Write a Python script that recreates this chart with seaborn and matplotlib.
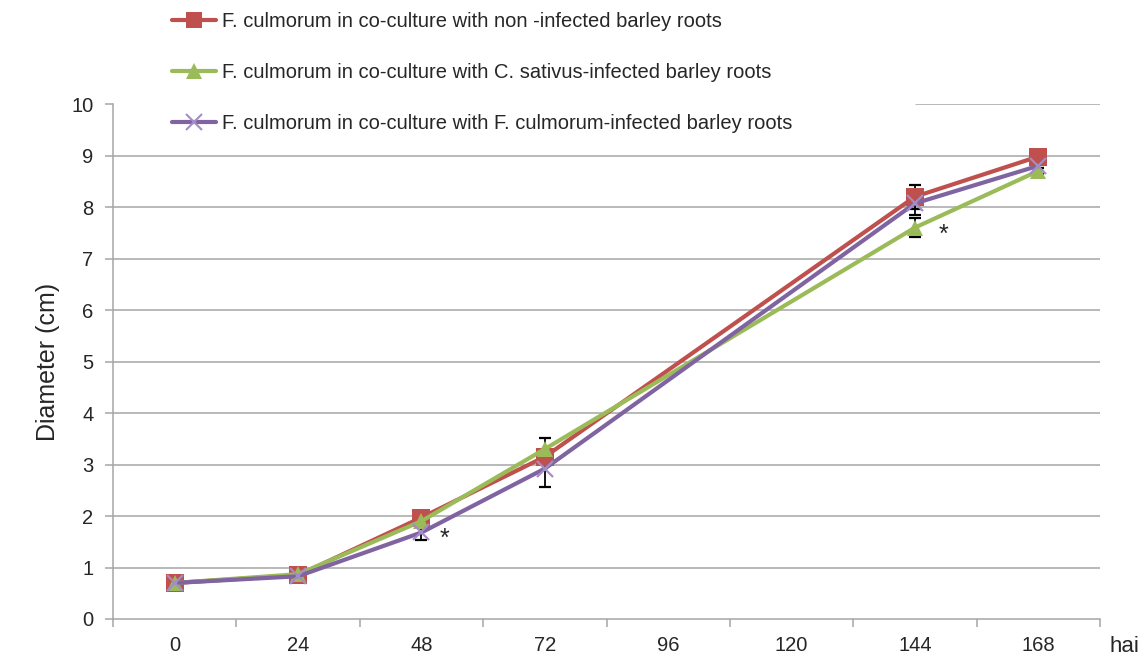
import numpy as np
import pandas as pd
import seaborn as sns
import matplotlib
matplotlib.use("Agg")
import matplotlib.pyplot as plt
from matplotlib.lines import Line2D

hours = [0, 24, 48, 72, 144, 168]
tick_hours = [0, 24, 48, 72, 96, 120, 144, 168]

labels = [
    "F. culmorum in co-culture with non -infected barley roots",
    "F. culmorum in co-culture with C. sativus-infected barley roots",
    "F. culmorum in co-culture with F. culmorum-infected barley roots",
]
non_infected = [0.70, 0.85, 1.97, 3.15, 8.20, 8.98]
csativus_infected = [0.70, 0.87, 1.90, 3.30, 7.60, 8.70]
fculmorum_infected = [0.70, 0.83, 1.68, 2.92, 8.07, 8.80]

err_non = [0.02, 0.03, 0.08, 0.10, 0.23, 0.05]
err_cs = [0.02, 0.03, 0.10, 0.22, 0.18, 0.05]
err_fc = [0.02, 0.03, 0.15, 0.35, 0.22, 0.05]

colors = ["#C0504D", "#9BBB59", "#8064A2"]
x_marker_color = "#A48CC4"

df = pd.DataFrame({
    "hai": hours * 3,
    "Diameter": non_infected + csativus_infected + fculmorum_infected,
    "series": [labels[0]] * 6 + [labels[1]] * 6 + [labels[2]] * 6,
})

sns.set_style("white")
plt.rcParams["font.family"] = ["Liberation Sans", "DejaVu Sans"]

fig = plt.figure(figsize=(11.48, 6.61), dpi=100)
ax = fig.add_axes([113 / 1148, 1 - 619 / 661, (1100 - 113) / 1148, (619 - 104) / 661])

# gridlines (top one partly hidden by the legend area)
for v in range(1, 10):
    ax.axhline(v, color="#a6a6a6", lw=1.1, zorder=0)
ax.axhline(10, xmin=(916 - 113) / 987, xmax=1, color="#a6a6a6", lw=1.1, zorder=0)

sns.lineplot(data=df, x="hai", y="Diameter", hue="series", style="series",
             palette=colors, markers=["s", "^", "X"], dashes=False, lw=3,
             markersize=13, markeredgewidth=0, ax=ax, zorder=3, legend=False)
data_lines = list(ax.get_lines())[-3:]
data_lines[2].set_marker("x")
data_lines[2].set_markeredgecolor(x_marker_color)
data_lines[2].set_markeredgewidth(1.6)
data_lines[2].set_markersize(12)
data_lines[1].set_markersize(12)

# error bars
for vals, errs in [(non_infected, err_non), (csativus_infected, err_cs), (fculmorum_infected, err_fc)]:
    ax.errorbar(hours, vals, yerr=errs, fmt="none", ecolor="black", elinewidth=1.3,
                capsize=4.5, capthick=1.6, zorder=2)

ax.set_xlim(-12, 180)
ax.set_ylim(0, 10)
ax.set_xticks(tick_hours)
ax.set_xticklabels([str(h) for h in tick_hours], fontsize=14.5)
ax.set_yticks(range(0, 11))
ax.set_yticklabels([str(v) for v in range(0, 11)], fontsize=14.5)
ax.tick_params(axis="x", length=0, pad=12)
ax.tick_params(axis="y", length=6, width=1.1, color="#a6a6a6", pad=8, left=True)
ax.set_xticks([b for b in range(-12, 181, 24)], minor=True)
ax.tick_params(axis="x", which="minor", length=6, width=1.1, color="#a6a6a6", bottom=True, direction="out")

for s in ["top", "right"]:
    ax.spines[s].set_visible(False)
for s in ["left", "bottom"]:
    ax.spines[s].set_color("#a6a6a6")
    ax.spines[s].set_linewidth(1.1)

ax.set_xlabel("")
ax.set_ylabel("Diameter (cm)", fontsize=18, labelpad=8)
fig.text(1124 / 1148, 1 - 646 / 661, "hai", fontsize=16, ha="center", va="center")

# asterisks
ax.text(52.5, 1.55, "*", fontsize=18, ha="center", va="center")
ax.text(149.5, 7.45, "*", fontsize=18, ha="center", va="center")

# legend
handles = [
    Line2D([], [], color=colors[0], lw=3, marker="s", markersize=12, markeredgewidth=0),
    Line2D([], [], color=colors[1], lw=3, marker="^", markersize=11, markeredgewidth=0),
    Line2D([], [], color=colors[2], lw=3, marker="x", markersize=11,
           markeredgecolor=x_marker_color, markeredgewidth=1.5),
]
leg = fig.legend(handles, labels, loc="upper left", bbox_to_anchor=(166 / 1148, 1 - 6 / 661),
                 fontsize=14.5, frameon=False, labelspacing=1.6, handlelength=2.2,
                 handletextpad=0.3, borderpad=0.3, borderaxespad=0)

fig.savefig("out.png", dpi=100)
